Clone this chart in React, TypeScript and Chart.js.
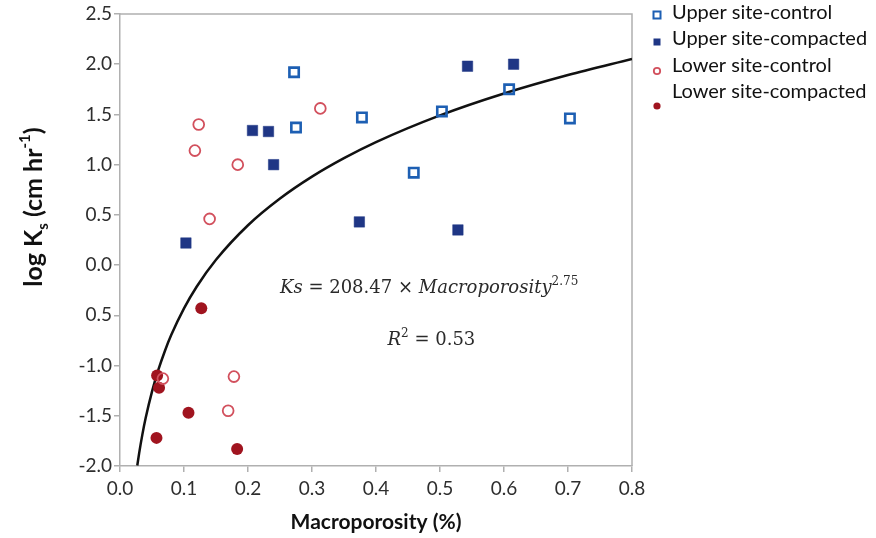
import React, { useEffect, useRef } from "react";
import { Chart, registerables } from "chart.js";

Chart.register(...registerables);

// ---- data ----
const seriesNames = [
  "Upper site-control",
  "Upper site-compacted",
  "Lower site-control",
  "Lower site-compacted",
];
const upperControlX = [0.272, 0.275, 0.378, 0.459, 0.503, 0.608, 0.703];
const upperControlY = [1.92, 1.37, 1.47, 0.92, 1.53, 1.75, 1.46];
const upperCompactedX = [0.103, 0.207, 0.232, 0.24, 0.374, 0.528, 0.543, 0.615];
const upperCompactedY = [0.22, 1.34, 1.33, 1.0, 0.43, 0.35, 1.98, 2.0];
const lowerControlX = [0.117, 0.123, 0.14, 0.184, 0.313, 0.067, 0.178, 0.169];
const lowerControlY = [1.14, 1.4, 0.46, 1.0, 1.56, -1.13, -1.11, -1.45];
const lowerCompactedX = [0.127, 0.058, 0.061, 0.107, 0.057, 0.183];
const lowerCompactedY = [-0.43, -1.1, -1.22, -1.47, -1.72, -1.83];
// fitted curve
const fitX = [0.027, 0.03, 0.035, 0.04, 0.05, 0.06, 0.07, 0.08, 0.1, 0.12, 0.15, 0.2, 0.25, 0.3, 0.35, 0.4, 0.5, 0.6, 0.7, 0.8];
const fitY = [-1.995, -1.869, -1.685, -1.525, -1.259, -1.041, -0.857, -0.697, -0.431, -0.213, 0.053, 0.397, 0.663, 0.881, 1.065, 1.225, 1.491, 1.709, 1.893, 2.053];

const xTickValues = [0, 0.1, 0.2, 0.3, 0.4, 0.5, 0.6, 0.7, 0.8];
const xTickLabels = ["0.0", "0.1", "0.2", "0.3", "0.4", "0.5", "0.6", "0.7", "0.8"];
const yTickValues = [-2, -1.5, -1, -0.5, 0, 0.5, 1, 1.5, 2, 2.5];
const yTickLabels = ["-2.0", "-1.5", "-1.0", "0.5", "0.0", "0.5", "1.0", "1.5", "2.0", "2.5"];

const xTitle = "Macroporosity (%)";
const eqCoefText = "208.47";
const eqExpText = "2.75";
const r2Text = "0.53";

const C_UC = "#1d5fb3";
const C_UP = "#1f3685";
const C_LC = "#d2505d";
const C_LP = "#a0141f";
const AXIS = "#b0b0b0";
const LABEL = "#2e2e2e";

const zip = (xs: number[], ys: number[]) => xs.map((x, i) => ({ x, y: ys[i] }));

const overlayPlugin = {
  id: "overlay",
  beforeDatasetsDraw(chart: any) {
    const { ctx, chartArea: a } = chart;
    ctx.save();
    ctx.strokeStyle = AXIS;
    ctx.lineWidth = 1.5;
    ctx.beginPath();
    ctx.moveTo(a.left, a.top);
    ctx.lineTo(a.right, a.top);
    ctx.lineTo(a.right, a.bottom);
    ctx.stroke();
    ctx.restore();
  },
  afterDraw(chart: any) {
    const { ctx, chartArea: a, scales } = chart;
    const xs = scales.x;
    const ys = scales.y;
    ctx.save();
    ctx.fillStyle = "#2a2a2a";
    ctx.textBaseline = "alphabetic";
    // equation
    const serif = "'DejaVu Serif'";
    const fs = 18;
    const parts: [string, string, number][] = [
      ["Ks", `italic ${fs}px ${serif}`, 0],
      [" = " + eqCoefText + " \u00d7 ", `${fs}px ${serif}`, 0],
      ["Macroporosity", `italic ${fs}px ${serif}`, 0],
      [eqExpText, `${Math.round(fs * 0.68)}px ${serif}`, -8],
    ];
    let x = xs.getPixelForValue(0.25);
    const yb = ys.getPixelForValue(-0.22) + 6;
    for (const [t, f, dy] of parts) {
      ctx.font = f;
      ctx.fillText(t, x, yb + dy);
      x += ctx.measureText(t).width;
    }
    const parts2: [string, string, number][] = [
      ["R", `italic ${fs}px ${serif}`, 0],
      ["2", `${Math.round(fs * 0.68)}px ${serif}`, -8],
      [" = " + r2Text, `${fs}px ${serif}`, 0],
    ];
    x = xs.getPixelForValue(0.418);
    const yb2 = ys.getPixelForValue(-0.74) + 6;
    for (const [t, f, dy] of parts2) {
      ctx.font = f;
      ctx.fillText(t, x, yb2 + dy);
      x += ctx.measureText(t).width;
    }

    // x axis title
    ctx.fillStyle = "#111";
    ctx.font = "bold 21px Lato";
    ctx.textAlign = "center";
    ctx.textBaseline = "middle";
    ctx.fillText(xTitle, (a.left + a.right) / 2, 522);

    // y axis title (rotated, with sub/superscripts)
    const ySegs: [string, string, number][] = [
      ["log K", "bold 25px Lato", 0],
      ["s", "bold 15px Lato", 6],
      [" (cm hr", "bold 25px Lato", 0],
      ["-1", "bold 15px Lato", -12],
      [")", "bold 25px Lato", 0],
    ];
    ctx.textAlign = "left";
    ctx.textBaseline = "alphabetic";
    let total = 0;
    for (const [t, f] of ySegs) {
      ctx.font = f;
      total += ctx.measureText(t).width;
    }
    ctx.translate(42, 207);
    ctx.rotate(-Math.PI / 2);
    let px = -total / 2;
    for (const [t, f, dy] of ySegs) {
      ctx.font = f;
      ctx.fillText(t, px, dy);
      px += ctx.measureText(t).width;
    }
    ctx.setTransform(1, 0, 0, 1, 0, 0);

    // legend
    const legendY = [13, 39, 66, 92];
    const markerY = [15, 42, 71, 106];
    ctx.font = "20px Lato";
    ctx.fillStyle = "#111";
    ctx.textBaseline = "middle";
    seriesNames.forEach((name, i) => {
      ctx.fillText(name, 672, legendY[i]);
      const mx = 657;
      const my = markerY[i];
      ctx.beginPath();
      if (i === 0) {
        ctx.strokeStyle = C_UC;
        ctx.lineWidth = 2;
        ctx.strokeRect(mx - 3.5, my - 3.5, 7, 7);
      } else if (i === 1) {
        ctx.fillStyle = C_UP;
        ctx.fillRect(mx - 3.5, my - 3.5, 7, 7);
        ctx.fillStyle = "#111";
      } else if (i === 2) {
        ctx.strokeStyle = C_LC;
        ctx.lineWidth = 1.8;
        ctx.arc(mx, my, 3.2, 0, Math.PI * 2);
        ctx.stroke();
      } else {
        ctx.fillStyle = C_LP;
        ctx.arc(mx, my, 3.6, 0, Math.PI * 2);
        ctx.fill();
        ctx.fillStyle = "#111";
      }
    });
    ctx.restore();
  },
};

export default function App() {
  const ref = useRef<HTMLCanvasElement | null>(null);
  useEffect(() => {
    document.body.style.margin = "0";
    const canvas = ref.current;
    if (!canvas) return;
    const chart = new Chart(canvas, {
      type: "scatter",
      data: {
        datasets: [
          {
            label: "fit",
            data: zip(fitX, fitY),
            showLine: true,
            borderColor: "#111",
            borderWidth: 2.5,
            pointRadius: 0,
            cubicInterpolationMode: "monotone",
            order: 5,
          } as any,
          {
            label: seriesNames[0],
            data: zip(upperControlX, upperControlY),
            pointStyle: "rect",
            pointRadius: 6.6,
            borderColor: C_UC,
            backgroundColor: "rgba(255,255,255,0)",
            borderWidth: 2.6,
          },
          {
            label: seriesNames[1],
            data: zip(upperCompactedX, upperCompactedY),
            pointStyle: "rect",
            pointRadius: 7.4,
            borderColor: C_UP,
            backgroundColor: C_UP,
            borderWidth: 0.5,
          },
          {
            label: seriesNames[2],
            data: zip(lowerControlX, lowerControlY),
            pointStyle: "circle",
            pointRadius: 5.4,
            borderColor: C_LC,
            backgroundColor: "rgba(255,255,255,0)",
            borderWidth: 1.8,
          },
          {
            label: seriesNames[3],
            data: zip(lowerCompactedX, lowerCompactedY),
            pointStyle: "circle",
            pointRadius: 6,
            borderColor: C_LP,
            backgroundColor: C_LP,
            borderWidth: 0,
          },
        ],
      },
      options: {
        animation: false,
        responsive: false,
        maintainAspectRatio: false,
        layout: { padding: { left: 0, top: 14, right: 244, bottom: 0 } },
        plugins: {
          legend: { display: false },
          tooltip: { enabled: false },
        },
        scales: {
          x: {
            type: "linear",
            min: 0,
            max: 0.8,
            afterBuildTicks: (s: any) => {
              s.ticks = xTickValues.map((v) => ({ value: v }));
            },
            afterFit: (s: any) => {
              s.height = 72;
            },
            ticks: {
              font: { family: "Lato", size: 19 },
              color: LABEL,
              padding: 5,
              maxRotation: 0,
              autoSkip: false,
              callback: (v: any) => {
                const i = xTickValues.findIndex((t) => Math.abs(t - v) < 1e-9);
                return i >= 0 ? xTickLabels[i] : "";
              },
            },
            grid: { display: true, drawOnChartArea: false, drawTicks: true, tickLength: 6, color: AXIS, lineWidth: 1.5 },
            border: { display: true, color: AXIS, width: 1.5 },
          },
          y: {
            type: "linear",
            min: -2,
            max: 2.5,
            afterBuildTicks: (s: any) => {
              s.ticks = yTickValues.map((v) => ({ value: v }));
            },
            afterFit: (s: any) => {
              s.width = 120;
            },
            ticks: {
              font: { family: "Lato", size: 19 },
              color: LABEL,
              padding: 2,
              autoSkip: false,
              callback: (v: any) => {
                const i = yTickValues.findIndex((t) => Math.abs(t - v) < 1e-9);
                return i >= 0 ? yTickLabels[i] : "";
              },
            },
            grid: { display: true, drawOnChartArea: false, drawTicks: true, tickLength: 6, color: AXIS, lineWidth: 1.5 },
            border: { display: true, color: AXIS, width: 1.5 },
          },
        },
      },
      plugins: [overlayPlugin],
    });
    return () => chart.destroy();
  }, []);
  return (
    <div style={{ width: 876, height: 538, background: "#fff" }}>
      <canvas ref={ref} width={876} height={538} style={{ display: "block" }} />
    </div>
  );
}
